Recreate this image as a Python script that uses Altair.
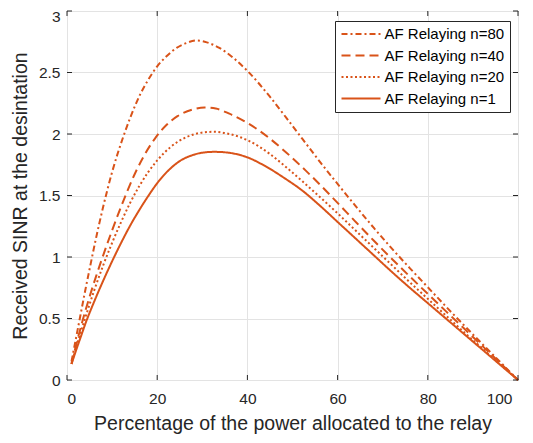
import altair as alt
import pandas as pd

# ---- data ----
labels = ["AF Relaying n=80", "AF Relaying n=40", "AF Relaying n=20", "AF Relaying n=1"]

x_n80 = [1, 2, 3, 4, 5, 6.3, 8.1, 10, 12.5, 14, 16.2, 18, 20, 22, 24.3, 26.5, 28.7, 31, 33.8, 37, 40,
         44.9, 48.6, 52.2, 56, 60, 64, 68, 72, 76, 80, 84, 88, 92, 96, 100]
y_n80 = [0.15, 0.34, 0.53, 0.72, 0.90, 1.13, 1.42, 1.69, 1.98, 2.13, 2.32, 2.44, 2.55, 2.63, 2.70, 2.74,
         2.76, 2.745, 2.70, 2.615, 2.513, 2.307, 2.133, 1.96, 1.778, 1.594, 1.414, 1.238, 1.07, 0.91,
         0.754, 0.598, 0.446, 0.296, 0.148, 0.0]

x_n40 = [1, 2, 3.4, 5, 6.5, 8.2, 10, 13.2, 15.1, 17, 19.5, 22.1, 24.5, 27.9, 30.5, 33, 36, 40, 44.9,
         48.6, 53, 56, 60, 64, 68, 72, 76, 80, 84, 88, 92, 96, 100]
y_n40 = [0.13, 0.28, 0.476, 0.676, 0.849, 1.032, 1.216, 1.52, 1.681, 1.818, 1.963, 2.075, 2.145, 2.199,
         2.215, 2.207, 2.165, 2.09, 1.965, 1.85, 1.70, 1.592, 1.44, 1.286, 1.134, 0.986, 0.842, 0.70,
         0.56, 0.42, 0.28, 0.14, 0.0]

x_n20 = [1, 2, 4, 6, 8, 10, 12, 14, 16, 18, 20, 23, 26.5, 29.4, 32.4, 36, 40, 44.9, 48.6, 52.2, 56, 60,
         64, 68, 72, 76, 80, 84, 88, 92, 96, 100]
y_n20 = [0.13, 0.26, 0.50, 0.725, 0.93, 1.115, 1.285, 1.44, 1.575, 1.69, 1.785, 1.895, 1.975, 2.008,
         2.018, 2.0, 1.95, 1.84, 1.73, 1.615, 1.49, 1.355, 1.215, 1.075, 0.935, 0.795, 0.66, 0.525,
         0.39, 0.26, 0.13, 0.0]

x_n1 = [1, 2, 3, 4.3, 6, 8, 10, 12, 14, 16, 18, 20, 22.8, 25, 28, 30, 32.7, 36, 40, 44, 48.6, 52, 56,
        60, 64, 68, 72, 76, 80, 84, 88, 92, 96, 100]
y_n1 = [0.13, 0.24, 0.345, 0.48, 0.635, 0.805, 0.965, 1.115, 1.255, 1.38, 1.495, 1.60, 1.715, 1.78,
        1.83, 1.848, 1.855, 1.847, 1.81, 1.738, 1.632, 1.545, 1.42, 1.285, 1.15, 1.015, 0.88, 0.75,
        0.625, 0.50, 0.375, 0.25, 0.125, 0.0]

x_ticks = [0, 20, 40, 60, 80, 100]
y_ticks = [0, 0.5, 1, 1.5, 2, 2.5, 3]

x_title = "Percentage of the power allocated to the relay"
y_title = "Received SINR at the desintation"

# ---- build table ----
rows = []
for lab, xs, ys in zip(labels, [x_n80, x_n40, x_n20, x_n1], [y_n80, y_n40, y_n20, y_n1]):
    for a, b in zip(xs, ys):
        rows.append({"x": a, "y": b, "series": lab})
df = pd.DataFrame(rows)
xt = pd.DataFrame({"x": x_ticks})
yt = pd.DataFrame({"y": y_ticks})

W, H = 451, 369
COLOR = "#D95319"
AX = "#262626"
FONT = "Liberation Sans"

xscale = alt.Scale(domain=[0, 100], nice=False, zero=False)
yscale = alt.Scale(domain=[0, 3], nice=False, zero=False)

x_axis = alt.Axis(values=x_ticks, title=x_title, labelPadding=11, titlePadding=8,
                  labelOffset=alt.ExprRef("datum.value == 100 ? -6 : 0"))
y_axis = alt.Axis(values=y_ticks, title=y_title, format="~g", labelPadding=7, titlePadding=8,
                  labelOffset=alt.ExprRef("datum.value == 3 ? 5 : 0"))

lines = alt.Chart(df).mark_line(color=COLOR, strokeWidth=2, interpolate="monotone").encode(
    x=alt.X("x:Q", scale=xscale, axis=x_axis),
    y=alt.Y("y:Q", scale=yscale, axis=y_axis),
    strokeDash=alt.StrokeDash(
        "series:N",
        scale=alt.Scale(domain=labels, range=[[6, 3, 2, 3], [9, 5], [2, 2.5], [1, 0]]),
        legend=alt.Legend(
            title=None, orient="none", legendX=268, legendY=10,
            symbolType="M-3,0H3", symbolSize=169, symbolOffset=13,
            symbolStrokeColor=COLOR, symbolStrokeWidth=2,
            labelOffset=16, labelFont=FONT, labelFontSize=15, labelColor="#000000",
            rowPadding=5.5, padding=5.5, strokeColor=AX, fillColor="#ffffff",
        ),
    ),
)

tick_b = alt.Chart(xt).mark_rule(color=AX, strokeWidth=1).encode(
    x=alt.X("x:Q", scale=xscale, axis=x_axis), y=alt.value(H), y2=alt.value(H - 5))
tick_t = alt.Chart(xt).mark_rule(color=AX, strokeWidth=1).encode(
    x=alt.X("x:Q", scale=xscale, axis=x_axis), y=alt.value(0), y2=alt.value(5))
tick_l = alt.Chart(yt).mark_rule(color=AX, strokeWidth=1).encode(
    y=alt.Y("y:Q", scale=yscale, axis=y_axis), x=alt.value(0), x2=alt.value(5))
tick_r = alt.Chart(yt).mark_rule(color=AX, strokeWidth=1).encode(
    y=alt.Y("y:Q", scale=yscale, axis=y_axis), x=alt.value(W), x2=alt.value(W - 5))

chart = alt.layer(lines, tick_b, tick_t, tick_l, tick_r).properties(
    width=W, height=H,
    autosize=alt.AutoSizeParams(type="none"),
    padding={"left": 59, "top": 3, "right": 7, "bottom": 55},
    background="#ffffff",
).configure_view(
    stroke=AX, strokeWidth=1
).configure_axis(
    domain=False, ticks=False, grid=True, gridColor="#e3e3e3", gridWidth=1,
    labelFont=FONT, labelFontSize=15.5, labelColor=AX,
    titleFont=FONT, titleFontSize=19.5, titleColor=AX, titleFontWeight="normal",
)

chart.save("out.html", embed_options={"renderer": "svg", "actions": False})
